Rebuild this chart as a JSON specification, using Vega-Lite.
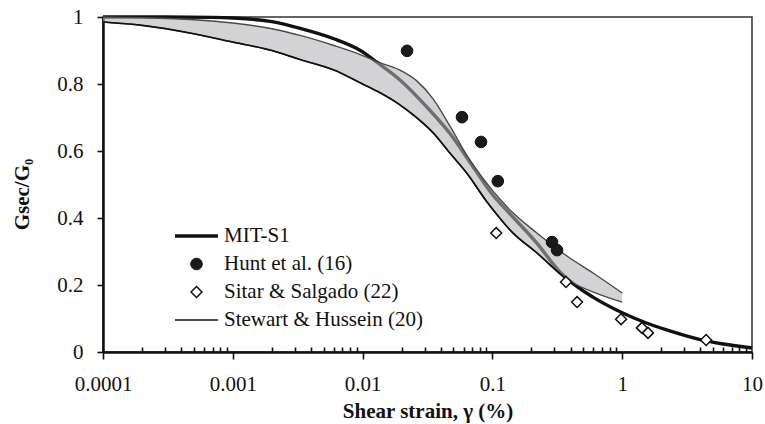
{
  "$schema": "https://vega.github.io/schema/vega-lite/v6.json",
  "width": 649,
  "height": 335,
  "autosize": {"type": "none"},
  "padding": {"left": 103, "top": 17, "right": 13, "bottom": 72},
  "background": "white",
  "datasets": {
    "curves": [
      {"series": "MIT-S1", "gamma": 0.0001, "g": 1.0},
      {"series": "MIT-S1", "gamma": 0.0003, "g": 1.0},
      {"series": "MIT-S1", "gamma": 0.0007, "g": 0.999},
      {"series": "MIT-S1", "gamma": 0.001, "g": 0.997},
      {"series": "MIT-S1", "gamma": 0.002, "g": 0.986},
      {"series": "MIT-S1", "gamma": 0.0033, "g": 0.966},
      {"series": "MIT-S1", "gamma": 0.006, "g": 0.935},
      {"series": "MIT-S1", "gamma": 0.0096, "g": 0.9},
      {"series": "MIT-S1", "gamma": 0.0129, "g": 0.865},
      {"series": "MIT-S1", "gamma": 0.0194, "g": 0.812},
      {"series": "MIT-S1", "gamma": 0.0313, "g": 0.731},
      {"series": "MIT-S1", "gamma": 0.0471, "g": 0.652},
      {"series": "MIT-S1", "gamma": 0.0709, "g": 0.553},
      {"series": "MIT-S1", "gamma": 0.1, "g": 0.47},
      {"series": "MIT-S1", "gamma": 0.137, "g": 0.412},
      {"series": "MIT-S1", "gamma": 0.22, "g": 0.325},
      {"series": "MIT-S1", "gamma": 0.33, "g": 0.24},
      {"series": "MIT-S1", "gamma": 0.45, "g": 0.195},
      {"series": "MIT-S1", "gamma": 0.6, "g": 0.163},
      {"series": "MIT-S1", "gamma": 1.0, "g": 0.117},
      {"series": "MIT-S1", "gamma": 1.5, "g": 0.088},
      {"series": "MIT-S1", "gamma": 2.2, "g": 0.066},
      {"series": "MIT-S1", "gamma": 4.0, "g": 0.037},
      {"series": "MIT-S1", "gamma": 6.0, "g": 0.024},
      {"series": "MIT-S1", "gamma": 10.0, "g": 0.012},
      {"series": "Stewart & Hussein (20)", "gamma": 0.0001, "g": 0.985},
      {"series": "Stewart & Hussein (20)", "gamma": 0.0002, "g": 0.975},
      {"series": "Stewart & Hussein (20)", "gamma": 0.0005, "g": 0.95},
      {"series": "Stewart & Hussein (20)", "gamma": 0.001, "g": 0.925},
      {"series": "Stewart & Hussein (20)", "gamma": 0.002, "g": 0.9},
      {"series": "Stewart & Hussein (20)", "gamma": 0.0033, "g": 0.873},
      {"series": "Stewart & Hussein (20)", "gamma": 0.006, "g": 0.842},
      {"series": "Stewart & Hussein (20)", "gamma": 0.01, "g": 0.8},
      {"series": "Stewart & Hussein (20)", "gamma": 0.013, "g": 0.778},
      {"series": "Stewart & Hussein (20)", "gamma": 0.019, "g": 0.74},
      {"series": "Stewart & Hussein (20)", "gamma": 0.026, "g": 0.7},
      {"series": "Stewart & Hussein (20)", "gamma": 0.035, "g": 0.654},
      {"series": "Stewart & Hussein (20)", "gamma": 0.047, "g": 0.594},
      {"series": "Stewart & Hussein (20)", "gamma": 0.064, "g": 0.532},
      {"series": "Stewart & Hussein (20)", "gamma": 0.09, "g": 0.45},
      {"series": "Stewart & Hussein (20)", "gamma": 0.115, "g": 0.398},
      {"series": "Stewart & Hussein (20)", "gamma": 0.14, "g": 0.36},
      {"series": "Stewart & Hussein (20)", "gamma": 0.22, "g": 0.296},
      {"series": "Stewart & Hussein (20)", "gamma": 0.38, "g": 0.215},
      {"series": "Stewart & Hussein (20)", "gamma": 0.6, "g": 0.163},
      {"series": "Stewart & Hussein (20)", "gamma": 1.0, "g": 0.117}
    ],
    "band": [
      {"gamma": 0.0001, "hi": 1.0, "lo": 0.985},
      {"gamma": 0.0002, "hi": 0.998, "lo": 0.975},
      {"gamma": 0.0005, "hi": 0.992, "lo": 0.95},
      {"gamma": 0.001, "hi": 0.982, "lo": 0.925},
      {"gamma": 0.002, "hi": 0.965, "lo": 0.9},
      {"gamma": 0.0033, "hi": 0.945, "lo": 0.873},
      {"gamma": 0.006, "hi": 0.915, "lo": 0.842},
      {"gamma": 0.01, "hi": 0.885, "lo": 0.8},
      {"gamma": 0.013, "hi": 0.866, "lo": 0.778},
      {"gamma": 0.019, "hi": 0.843, "lo": 0.74},
      {"gamma": 0.026, "hi": 0.81, "lo": 0.7},
      {"gamma": 0.035, "hi": 0.755, "lo": 0.654},
      {"gamma": 0.047, "hi": 0.675, "lo": 0.594},
      {"gamma": 0.064, "hi": 0.585, "lo": 0.532},
      {"gamma": 0.09, "hi": 0.505, "lo": 0.45},
      {"gamma": 0.115, "hi": 0.455, "lo": 0.398},
      {"gamma": 0.14, "hi": 0.42, "lo": 0.36},
      {"gamma": 0.22, "hi": 0.355, "lo": 0.296},
      {"gamma": 0.38, "hi": 0.285, "lo": 0.215},
      {"gamma": 0.6, "hi": 0.235, "lo": 0.179},
      {"gamma": 1.0, "hi": 0.176, "lo": 0.149}
    ],
    "points": [
      {"series": "Hunt et al. (16)", "gamma": 0.022, "g": 0.899},
      {"series": "Hunt et al. (16)", "gamma": 0.0583, "g": 0.701},
      {"series": "Hunt et al. (16)", "gamma": 0.0817, "g": 0.627},
      {"series": "Hunt et al. (16)", "gamma": 0.11, "g": 0.51},
      {"series": "Hunt et al. (16)", "gamma": 0.288, "g": 0.328},
      {"series": "Hunt et al. (16)", "gamma": 0.315, "g": 0.304},
      {"series": "Sitar & Salgado (22)", "gamma": 0.107, "g": 0.355},
      {"series": "Sitar & Salgado (22)", "gamma": 0.369, "g": 0.209},
      {"series": "Sitar & Salgado (22)", "gamma": 0.449, "g": 0.149},
      {"series": "Sitar & Salgado (22)", "gamma": 0.98, "g": 0.098},
      {"series": "Sitar & Salgado (22)", "gamma": 1.42, "g": 0.072},
      {"series": "Sitar & Salgado (22)", "gamma": 1.58, "g": 0.057},
      {"series": "Sitar & Salgado (22)", "gamma": 4.43, "g": 0.036}
    ]
  },
  "layer": [
    {
      "data": {"name": "curves"},
      "transform": [{"filter": "datum.series === 'MIT-S1'"}],
      "mark": {"type": "line", "interpolate": "monotone"},
      "encoding": {
        "x": {
          "field": "gamma", "type": "quantitative", "title": "Shear strain, γ  (%)",
          "scale": {"type": "log", "domain": [0.0001, 10]},
          "axis": {
            "values": [0.0001,0.0002,0.0003,0.0004,0.0005,0.0006,0.0007,0.0008,0.0009,0.001,0.002,0.003,0.004,0.005,0.006,0.007,0.008,0.009,0.01,0.02,0.03,0.04,0.05,0.06,0.07,0.08,0.09,0.1,0.2,0.3,0.4,0.5,0.6,0.7,0.8,0.9,1,2,3,4,5,6,7,8,9,10],
            "labelExpr": "abs(log(datum.value)/LN10 - round(log(datum.value)/LN10)) < 0.001 ? format(datum.value, '~g') : ''",
            "tickSize": {"condition": {"test": "abs(log(datum.value)/LN10 - round(log(datum.value)/LN10)) < 0.001", "value": 7}, "value": -5},
            "labelPadding": 14,
            "labelFlush": false,
            "labelOverlap": false,
            "titleX": 324.5,
            "titleY": 65,
            "titleBaseline": "alphabetic"
          }
        },
        "y": {
          "field": "g", "type": "quantitative", "title": "Gsec/G₀",
          "scale": {"domain": [0, 1]},
          "axis": {
            "values": [0, 0.2, 0.4, 0.6, 0.8, 1],
            "format": ".1~f",
            "tickSize": 6,
            "labelPadding": 14,
            "titleX": -81,
            "titleY": 177,
            "titleAngle": -90,
            "titleAlign": "center",
            "titleBaseline": "middle"
          }
        },
        "stroke": {"field": "series", "type": "nominal", "title": null,
          "scale": {"domain": ["MIT-S1", "Hunt et al. (16)", "Sitar & Salgado (22)", "Stewart & Hussein (20)"], "range": ["#111111", "#111111", "#111111", "#111111"]}},
        "strokeWidth": {"field": "series", "type": "nominal", "title": null,
          "scale": {"type": "ordinal", "domain": ["MIT-S1", "Hunt et al. (16)", "Sitar & Salgado (22)", "Stewart & Hussein (20)"], "range": [3.4, 1, 1.5, 1.7]}}
      }
    },
    {
      "data": {"name": "band"},
      "mark": {"type": "area", "interpolate": "monotone", "fill": "#b4b4b6", "fillOpacity": 0.58},
      "encoding": {
        "x": {"field": "gamma", "type": "quantitative", "title": "Shear strain, γ  (%)"},
        "y": {"field": "hi", "type": "quantitative", "title": "Gsec/G₀"},
        "y2": {"field": "lo"}
      }
    },
    {
      "data": {"name": "band"},
      "mark": {"type": "line", "interpolate": "monotone", "stroke": "#4a4a4a", "strokeWidth": 1.4},
      "encoding": {
        "x": {"field": "gamma", "type": "quantitative", "title": "Shear strain, γ  (%)"},
        "y": {"field": "hi", "type": "quantitative", "title": "Gsec/G₀"}
      }
    },
    {
      "data": {"name": "band"},
      "mark": {"type": "line", "interpolate": "monotone", "stroke": "#4a4a4a", "strokeWidth": 1.4},
      "encoding": {
        "x": {"field": "gamma", "type": "quantitative", "title": "Shear strain, γ  (%)"},
        "y": {"field": "lo", "type": "quantitative", "title": "Gsec/G₀"}
      }
    },
    {
      "data": {"name": "curves"},
      "transform": [{"filter": "datum.series === 'Stewart & Hussein (20)'"}],
      "mark": {"type": "line", "interpolate": "monotone"},
      "encoding": {
        "x": {"field": "gamma", "type": "quantitative", "title": "Shear strain, γ  (%)"},
        "y": {"field": "g", "type": "quantitative", "title": "Gsec/G₀"},
        "stroke": {"field": "series", "type": "nominal", "title": null,
          "scale": {"domain": ["MIT-S1", "Hunt et al. (16)", "Sitar & Salgado (22)", "Stewart & Hussein (20)"]}},
        "strokeWidth": {"field": "series", "type": "nominal", "title": null,
          "scale": {"type": "ordinal", "domain": ["MIT-S1", "Hunt et al. (16)", "Sitar & Salgado (22)", "Stewart & Hussein (20)"]}}
      }
    },
    {
      "data": {"name": "points"},
      "mark": {"type": "point", "filled": true, "opacity": 1},
      "encoding": {
        "x": {"field": "gamma", "type": "quantitative", "title": "Shear strain, γ  (%)"},
        "y": {"field": "g", "type": "quantitative", "title": "Gsec/G₀"},
        "shape": {"field": "series", "type": "nominal", "title": null,
          "scale": {"domain": ["MIT-S1", "Hunt et al. (16)", "Sitar & Salgado (22)", "Stewart & Hussein (20)"], "range": ["stroke", "circle", "diamond", "stroke"]}},
        "fill": {"field": "series", "type": "nominal", "title": null,
          "scale": {"domain": ["MIT-S1", "Hunt et al. (16)", "Sitar & Salgado (22)", "Stewart & Hussein (20)"], "range": ["#111111", "#1a1a1a", "#ffffff", "#111111"]}},
        "size": {"field": "series", "type": "nominal", "title": null,
          "scale": {"type": "ordinal", "domain": ["MIT-S1", "Hunt et al. (16)", "Sitar & Salgado (22)", "Stewart & Hussein (20)"], "range": [1850, 135, 120, 1850]}},
        "stroke": {"field": "series", "type": "nominal", "title": null,
          "scale": {"domain": ["MIT-S1", "Hunt et al. (16)", "Sitar & Salgado (22)", "Stewart & Hussein (20)"]}},
        "strokeWidth": {"field": "series", "type": "nominal", "title": null,
          "scale": {"type": "ordinal", "domain": ["MIT-S1", "Hunt et al. (16)", "Sitar & Salgado (22)", "Stewart & Hussein (20)"]}}
      }
    }
  ],
  "config": {
    "font": "Liberation Serif, Times New Roman, serif",
    "view": {"stroke": "#333333", "strokeWidth": 1.5},
    "axis": {
      "grid": false,
      "labelFont": "Liberation Serif, Times New Roman, serif",
      "labelFontSize": 21,
      "labelColor": "#111111",
      "titleFont": "Liberation Serif, Times New Roman, serif",
      "titleFontSize": 21,
      "titleFontWeight": "bold",
      "titleColor": "#111111",
      "domainColor": "#111111",
      "domainWidth": 2.5,
      "tickColor": "#111111",
      "tickWidth": 1.6
    },
    "legend": {
      "orient": "none",
      "legendX": 70,
      "legendY": 206,
      "padding": 0,
      "labelFont": "Liberation Serif, Times New Roman, serif",
      "labelFontSize": 21,
      "labelColor": "#111111",
      "labelLimit": 400,
      "clipHeight": 26,
      "rowPadding": 2,
      "labelOffset": 4,
      "symbolOpacity": 1
    }
  }
}
